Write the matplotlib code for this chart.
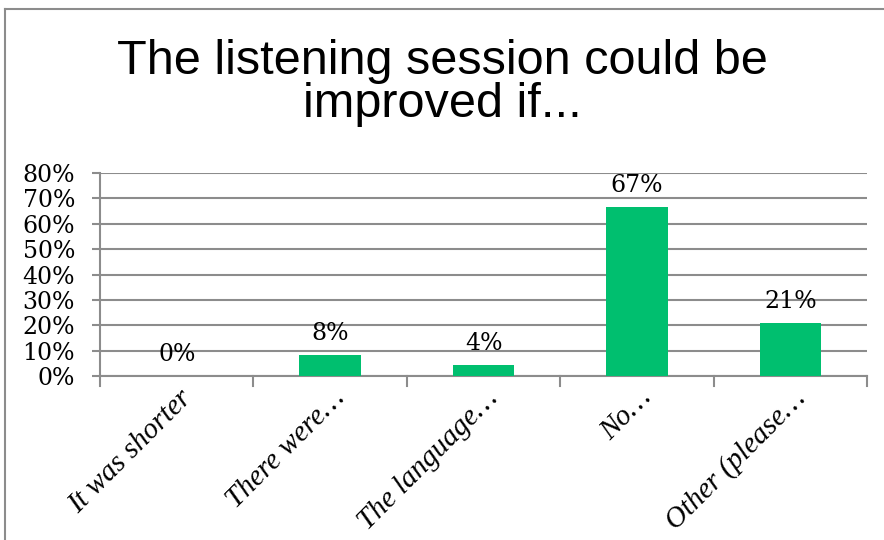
import numpy as np
import matplotlib.pyplot as plt
import matplotlib.transforms as mtransforms

categories = ["It was shorter", "There were…", "The language…", "No…", "Other (please…"]
values = [0.0, 8.33, 4.17, 66.67, 20.83]
labels = ["0%", "8%", "4%", "67%", "21%"]
yticks = [0, 10, 20, 30, 40, 50, 60, 70, 80]
title_lines = ["The listening session could be", "improved if..."]

green = "#00BF6F"
grid = "#8C8C8C"
serif = ["DejaVu Serif"]

fig = plt.figure(figsize=(8.84, 5.4), dpi=100)
ax = fig.add_axes([100/884, 1 - 376/540, 767/884, 203/540])

x = np.arange(len(categories))
ax.bar(x, values, width=0.4, color=green, zorder=3)

for xi, v, t in zip(x, values, labels):
    ax.annotate(t, (xi, v), xytext=(0, 11), textcoords="offset points",
                ha="center", va="baseline", fontsize=17, family=serif)

ax.set_xlim(-0.5, len(categories) - 0.5)
ax.set_ylim(0, 80)
ax.set_yticks(yticks)
ax.set_yticklabels([f"{t}%" for t in yticks], fontsize=17, family=serif)
ax.yaxis.grid(True, color=grid, linewidth=1.5, zorder=0)

# category labels, with ticks at the boundaries
ax.set_xticks(x)
ax.set_xticklabels(categories, rotation=45, ha="right", va="center",
                   rotation_mode="anchor", fontsize=21, style="italic",
                   family=["Liberation Serif", "DejaVu Serif"])
ax.tick_params(axis="x", length=0, pad=13)
shift = mtransforms.ScaledTranslation(11/100, 0, fig.dpi_scale_trans)
for lab in ax.get_xticklabels():
    lab.set_transform(lab.get_transform() + shift)
for b in np.arange(-0.5, len(categories), 1.0):
    ax.plot([b, b], [0, -4], color=grid, lw=1.5, clip_on=False, zorder=4)
ax.tick_params(axis="y", length=6, width=1.5, color=grid, pad=12)

for s in ["top", "right"]:
    ax.spines[s].set_visible(False)
ax.spines["left"].set_color(grid)
ax.spines["left"].set_linewidth(1.5)
ax.spines["bottom"].set_color(grid)
ax.spines["bottom"].set_linewidth(1.5)

title_font = ["Liberation Sans", "DejaVu Sans"]
fig.text(0.5, 1 - 74/540, title_lines[0], ha="center", va="baseline",
         fontsize=35, family=title_font)
fig.text(0.5, 1 - 117/540, title_lines[1], ha="center", va="baseline",
         fontsize=35, family=title_font)

# chart frame (only top and left edges visible in the crop)
fig.add_artist(plt.Line2D([5/884, 5/884], [0, 1 - 9/540], transform=fig.transFigure,
                          color=grid, lw=1.5))
fig.add_artist(plt.Line2D([5/884, 1], [1 - 9/540, 1 - 9/540], transform=fig.transFigure,
                          color=grid, lw=1.5))

fig.savefig("out.png", dpi=100)
